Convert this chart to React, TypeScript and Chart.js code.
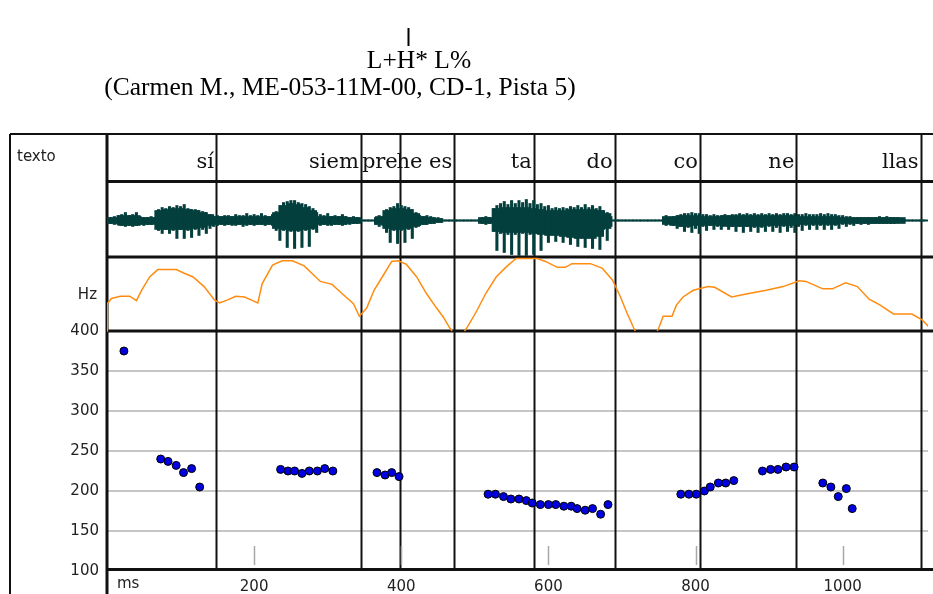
import { useEffect, useRef } from 'react';
import { Chart, registerables } from 'chart.js';

Chart.register(...registerables);

// ---- Data -------------------------------------------------------------

// Syllable labels and their right-hand boundaries (ms)
const syllables = ['sí', 'siem', 'pre', 'he es', 'ta', 'do', 'co', 'ne', 'llas'];
const boundariesMs = [148, 345, 398, 472, 580, 690, 806, 937, 1106];

// F0 measurements (ms, Hz)
const f0Ms = [
  23, 73, 83, 94, 104, 115, 126,
  236, 246, 255, 265, 275, 286, 296, 307,
  367, 378, 387, 397,
  518, 528, 539, 549, 560, 570, 578, 589, 600, 610, 621, 631, 639, 650, 660, 671, 681,
  780, 791, 801, 812, 820, 831, 841, 852,
  891, 902, 912, 923, 934,
  973, 984, 994, 1005, 1013,
];
const f0Hz = [
  375, 240, 237, 232, 223, 228, 205,
  227, 225, 225, 222, 225, 225, 228, 225,
  223, 220, 223, 218,
  196, 196, 193, 190, 190, 188, 185, 183, 183, 183, 181, 181, 178, 176, 178, 171, 183,
  196, 196, 196, 200, 205, 210, 210, 213,
  225, 227, 227, 230, 230,
  210, 205, 193, 203, 178,
];

// Pitch contour tier (ms, relative level 0-100; null = unvoiced gap)
const contourMs = [
  0, 0.5, 6, 18, 31, 40, 47, 58, 69, 94, 105, 117, 132, 146, 153, 164, 175, 187, 198, 205,
  211, 225, 238, 252, 268, 290, 306, 319, 335, 343, 353, 363, 376, 387, 396, 407, 421, 434,
  448, 457, 466, 469, 476,
  486, 489, 502, 515, 529, 542, 556, 585, 596, 612, 623, 632, 657, 673, 687, 698, 707, 716,
  718, 733,
  748, 750, 756, 768, 774, 783, 797, 817, 826, 849, 869, 896, 919, 941, 950, 973, 986, 1004,
  1020, 1036, 1051, 1069, 1094, 1108, 1117,
];
const contourLevel = [
  0, 37, 44, 47, 47, 41, 55, 73, 83, 83, 78, 73, 60, 42, 38, 42, 47, 46, 41, 38,
  64, 89, 95, 95, 88, 67, 63, 51, 37, 20, 31, 55, 76, 94, 95, 90, 73, 51,
  31, 19, 4, 0, null,
  0, 4, 26, 51, 73, 86, 98, 98, 94, 86, 86, 91, 91, 85, 69, 46, 24, 4,
  0, null,
  0, 4, 20, 20, 35, 46, 55, 60, 59, 46, 50, 55, 60, 68, 67, 57, 57, 65,
  60, 43, 35, 23, 23, 15, 6,
];

// Oscillogram: pulse extremes every 5 ms
const WAVE_STEP = 5;
const waveHi = [
  3, 3, 4, 5, 6, 8, 5, 6, 8, 4,
  3, 3, 4, 3,
  11, 13, 12, 14, 13, 15, 14, 16, 12, 11, 11, 10, 9, 8, 6, 4,
  5, 4, 5, 5, 4, 6, 5, 5, 7, 5, 6, 5, 7,
  5, 4, 6,
  9, 15, 18, 19, 20, 20, 18, 17, 16, 14, 12, 8,
  6, 5, 7, 4, 5, 4, 6, 4, 3, 4, 3,
  0.5, 0.5, 0.5, 0.5,
  3, 5, 4,
  11, 13, 14, 17, 15, 14, 13, 11, 8,
  5, 4, 5, 4, 3, 3, 2,
  0.5, 0.5, 0.5, 0.5, 0.5, 0.5, 0.5, 0.5, 0.5, 0.5,
  3, 4, 3,
  12, 15, 17, 19, 16, 20, 17, 20, 18, 21, 17, 20, 16, 17, 14, 15, 12, 13, 12, 13,
  12, 14, 13, 15, 13, 16, 13, 15, 12, 14, 10, 8, 4,
  0.5, 0.5, 0.5, 0.5, 0.5, 0.5, 0.5, 0.5, 0.5, 0.5, 0.5, 0.5, 0.5, 0.5,
  5, 2,
  4, 5, 6, 7, 7, 8, 7, 7, 6, 6,
  5, 6, 5, 5, 6, 5, 6, 6, 7, 6,
  7, 6, 7, 6, 7, 6, 7, 6, 7, 6,
  7, 7, 6, 7, 6, 6, 7, 6, 6, 6,
  7, 6, 7, 6, 6, 5, 5, 4, 4, 3,
  3, 3, 3, 3, 3, 3, 4, 3, 4, 3,
  3, 3, 2,
  0.5, 0.5, 0.5, 0.5, 0.5, 0.5,
];
const waveLo = [
  -3, -3, -4, -4, -5, -6, -5, -6, -5, -4,
  -5, -4, -4, -3,
  -10, -13, -9, -13, -10, -18, -9, -18, -10, -17, -9, -15, -9, -13, -8, -6,
  -5, -4, -5, -4, -5, -5, -4, -6, -5, -4, -5, -4, -4,
  -5, -4, -5,
  -10, -20, -10, -27, -11, -28, -11, -27, -10, -26, -9, -12,
  -5, -4, -5, -5, -4, -4, -5, -4, -4, -3, -3,
  -0.5, -0.5, -0.5, -0.5,
  -4, -6, -5,
  -12, -22, -10, -23, -10, -22, -9, -18, -7,
  -5, -4, -4, -3, -3, -2, -2,
  -0.5, -0.5, -0.5, -0.5, -0.5, -0.5, -0.5, -0.5, -0.5, -0.5,
  -3, -4, -3,
  -11, -30, -13, -32, -14, -34, -14, -35, -13, -35, -14, -34, -13, -30, -12, -22, -11, -21, -11, -22,
  -10, -24, -11, -26, -11, -27, -10, -28, -10, -29, -9, -20, -6,
  -0.5, -0.5, -0.5, -0.5, -0.5, -0.5, -0.5, -0.5, -0.5, -0.5, -0.5, -0.5, -0.5, -0.5,
  -5, -2,
  -5, -8, -6, -11, -7, -12, -8, -13, -6, -10,
  -5, -9, -6, -9, -5, -9, -6, -11, -6, -12,
  -6, -11, -7, -12, -7, -11, -6, -11, -7, -12,
  -6, -11, -7, -12, -6, -10, -5, -9, -5, -9,
  -5, -9, -5, -9, -5, -8, -4, -6, -4, -5,
  -3, -4, -3, -4, -3, -3, -3, -3, -3, -3,
  -3, -2, -2,
  -0.5, -0.5, -0.5, -0.5, -0.5, -0.5,
];

// Oscillogram: dense core every 10 ms
const CORE_STEP = 10;
const coreHi = [
  3, 3, 5, 5, 5, 3, 3,
  10, 11, 12, 12, 11, 10, 8, 6,
  4, 4, 4, 4, 4, 4, 4, 4,
  8, 15, 17, 16, 13, 10,
  4, 4, 4, 4, 3, 3,
  0.5, 0.5,
  4,
  10, 12, 12, 11, 7,
  4, 3, 2,
  0.5, 0.5, 0.5, 0.5, 0.5,
  3, 3,
  12, 13, 13, 13, 13, 12, 11, 10, 10, 10, 11, 11, 11, 11, 10, 7,
  0.5, 0.5, 0.5, 0.5, 0.5, 0.5, 0.5,
  4,
  4, 5, 5, 5, 4, 4, 4, 5, 5, 5, 5, 5, 5, 5, 5, 5, 5, 4, 4, 4, 4, 4, 4,
  3, 3, 3, 3, 3, 3, 3, 3, 3,
  0.5, 0.5, 0.5,
];
const coreLo = [
  -3, -3, -5, -5, -5, -4, -4,
  -9, -9, -9, -9, -9, -8, -7, -5,
  -4, -4, -4, -4, -4, -4, -4, -4,
  -8, -9, -10, -10, -9, -8,
  -4, -4, -4, -4, -3, -3,
  -0.5, -0.5,
  -4,
  -8, -9, -9, -8, -6,
  -4, -3, -2,
  -0.5, -0.5, -0.5, -0.5, -0.5,
  -3, -3,
  -11, -12, -12, -12, -12, -13, -14, -15, -15, -16, -17, -18, -18, -18, -16, -8,
  -0.5, -0.5, -0.5, -0.5, -0.5, -0.5, -0.5,
  -4,
  -5, -6, -6, -5, -5, -5, -5, -6, -6, -6, -6, -6, -6, -5, -5, -5, -5, -4, -4, -4, -4, -4, -4,
  -3, -3, -3, -3, -3, -3, -3, -3, -3,
  -0.5, -0.5, -0.5,
];

// Axis ticks
const hzTicks = [100, 150, 200, 250, 300, 350, 400];
const msTicks = [200, 400, 600, 800, 1000];

// ---- Layout -----------------------------------------------------------

const W = 933;
const H = 594;
const X_MAX = 1116;
const FRAME_LEFT = 10;
const PLOT_LEFT = 107;
const AREA_TOP = 134;
const AREA_BOTTOM = 571;
const TEXT_TIER_BOTTOM = 181.5;
const WAVE_TIER_BOTTOM = 257;
const CONTOUR_TIER_BOTTOM = 331;
const MAIN_BOTTOM = 569.5;

const WAVE_COLOR = '#033f3d';
const CONTOUR_COLOR = '#ff8c10';
const INK = '#111';

// Axis limits so that a value range lands on a given pixel band of the chart area
function bandRange(vLow: number, vHigh: number, pxLow: number, pxHigh: number) {
  const k = (pxLow - pxHigh) / (vHigh - vLow);
  const min = vLow - (AREA_BOTTOM - pxLow) / k;
  const max = min + (AREA_BOTTOM - AREA_TOP) / k;
  return { min, max };
}

const mainRange = bandRange(100, 400, AREA_BOTTOM, CONTOUR_TIER_BOTTOM);
const contourRange = bandRange(0, 100, CONTOUR_TIER_BOTTOM, WAVE_TIER_BOTTOM);
const waveRange = bandRange(-36.5, 36.5, WAVE_TIER_BOTTOM, WAVE_TIER_BOTTOM - 73);

const framePlugin = {
  id: 'praatFrame',
  beforeDatasetsDraw(chart: any) {
    const { ctx } = chart;
    const x = chart.scales.x;
    ctx.save();
    ctx.strokeStyle = INK;
    ctx.lineCap = 'butt';

    // outer frame
    ctx.lineWidth = 2;
    ctx.beginPath();
    ctx.moveTo(FRAME_LEFT, AREA_TOP);
    ctx.lineTo(W, AREA_TOP);
    ctx.moveTo(FRAME_LEFT, AREA_TOP);
    ctx.lineTo(FRAME_LEFT, H);
    ctx.stroke();

    // tier separators
    ctx.lineWidth = 3;
    ctx.beginPath();
    ctx.moveTo(PLOT_LEFT, AREA_TOP - 1);
    ctx.lineTo(PLOT_LEFT, H);
    for (const y of [TEXT_TIER_BOTTOM, WAVE_TIER_BOTTOM, CONTOUR_TIER_BOTTOM, MAIN_BOTTOM]) {
      ctx.moveTo(PLOT_LEFT, y);
      ctx.lineTo(W, y);
    }
    ctx.stroke();

    // syllable boundaries through every tier
    ctx.lineWidth = 2;
    ctx.beginPath();
    for (const b of boundariesMs) {
      const px = Math.round(x.getPixelForValue(b)) + 0.5;
      ctx.moveTo(px, AREA_TOP);
      ctx.lineTo(px, MAIN_BOTTOM);
    }
    ctx.stroke();

    // time marks inside the F0 panel
    ctx.strokeStyle = '#a8a8a8';
    ctx.lineWidth = 1.5;
    ctx.beginPath();
    for (const t of msTicks) {
      const px = Math.round(x.getPixelForValue(t)) + 0.5;
      ctx.moveTo(px, 546);
      ctx.lineTo(px, 565);
    }
    ctx.stroke();
    ctx.restore();
  },
  afterDraw(chart: any) {
    const { ctx } = chart;
    const x = chart.scales.x;
    ctx.save();

    // headings
    ctx.fillStyle = '#000';
    ctx.strokeStyle = '#000';
    ctx.lineWidth = 2;
    ctx.beginPath();
    ctx.moveTo(408.5, 28);
    ctx.lineTo(408.5, 46);
    ctx.stroke();
    ctx.font = '25.5px "Liberation Serif"';
    ctx.textAlign = 'center';
    ctx.textBaseline = 'alphabetic';
    ctx.fillText('L+H* L%', 419, 68);
    ctx.fillText('(Carmen M., ME-053-11M-00, CD-1, Pista 5)', 340, 95);

    // tier names
    ctx.fillStyle = '#222';
    ctx.font = '15px "DejaVu Sans"';
    ctx.textBaseline = 'middle';
    ctx.textAlign = 'left';
    ctx.fillText('texto', 17, 157);
    ctx.fillText('ms', 117, 584);
    ctx.textAlign = 'right';
    ctx.fillText('Hz', 97, 295);

    // syllable labels, right-aligned on their boundaries
    ctx.fillStyle = INK;
    ctx.font = '21px "DejaVu Serif"';
    ctx.textAlign = 'right';
    ctx.textBaseline = 'alphabetic';
    syllables.forEach((s, i) => {
      ctx.fillText(s, x.getPixelForValue(boundariesMs[i]) - 2, 168);
    });
    ctx.restore();
  },
};

export default function App() {
  const canvasRef = useRef<HTMLCanvasElement>(null);

  useEffect(() => {
    const canvas = canvasRef.current;
    if (!canvas) return;

    const pulses = waveHi.map((h, i) => ({ x: i * WAVE_STEP, y: [waveLo[i], h] }));
    const core = coreHi.map((h, i) => ({ x: i * CORE_STEP, y: [coreLo[i], h] }));
    const contour = contourMs.map((t, i) => ({ x: t, y: contourLevel[i] }));
    const f0 = f0Ms.map((t, i) => ({ x: t, y: f0Hz[i] }));

    const chart = new Chart(canvas, {
      type: 'scatter',
      data: {
        datasets: [
          {
            type: 'bar',
            label: 'oscilograma',
            yAxisID: 'yW',
            data: core as any,
            backgroundColor: WAVE_COLOR,
            barThickness: 7.6,
            grouped: false,
          } as any,
          {
            type: 'bar',
            label: 'pulsos',
            yAxisID: 'yW',
            data: pulses as any,
            backgroundColor: WAVE_COLOR,
            barThickness: 2.4,
            grouped: false,
          } as any,
          {
            type: 'line',
            label: 'eje',
            yAxisID: 'yW',
            data: [{ x: 0, y: 0 }, { x: X_MAX, y: 0 }],
            borderColor: WAVE_COLOR,
            borderWidth: 1.5,
            pointRadius: 0,
          },
          {
            type: 'line',
            label: 'curva',
            yAxisID: 'yC',
            data: contour as any,
            borderColor: CONTOUR_COLOR,
            borderWidth: 1.5,
            pointRadius: 0,
            spanGaps: false,
            tension: 0,
          },
          {
            type: 'scatter',
            label: 'F0',
            yAxisID: 'y',
            data: f0,
            pointRadius: 4,
            pointHoverRadius: 4,
            backgroundColor: '#0000e0',
            borderColor: '#000',
            borderWidth: 1,
          },
        ],
      },
      options: {
        responsive: false,
        maintainAspectRatio: false,
        animation: false,
        devicePixelRatio: 1,
        events: [],
        layout: { padding: { top: AREA_TOP, left: FRAME_LEFT, right: 0, bottom: 0 } },
        plugins: { legend: { display: false }, tooltip: { enabled: false } },
        scales: {
          x: {
            type: 'linear',
            position: 'bottom',
            min: 0,
            max: X_MAX,
            offset: false,
            grid: { display: false },
            border: { display: false },
            afterBuildTicks: (s: any) => {
              s.ticks = msTicks.map((v) => ({ value: v }));
            },
            ticks: {
              autoSkip: false,
              maxRotation: 0,
              padding: -1,
              color: '#222',
              font: { family: 'DejaVu Sans', size: 15 },
              callback: (v: any) => String(v),
            },
            afterFit: (s: any) => {
              s.height = H - AREA_BOTTOM;
            },
          },
          y: {
            type: 'linear',
            position: 'left',
            min: mainRange.min,
            max: mainRange.max,
            border: { display: false },
            afterBuildTicks: (s: any) => {
              s.ticks = hzTicks.map((v) => ({ value: v }));
            },
            grid: {
              drawTicks: false,
              lineWidth: 2,
              color: (c: any) =>
                c.tick && c.tick.value > 100 && c.tick.value < 400 ? '#c6c6c6' : 'rgba(0,0,0,0)',
            },
            ticks: {
              autoSkip: false,
              padding: 8,
              color: '#222',
              font: { family: 'DejaVu Sans', size: 15 },
              callback: (v: any) => String(v),
            },
            afterFit: (s: any) => {
              s.width = PLOT_LEFT - FRAME_LEFT;
            },
          },
          yC: { type: 'linear', axis: 'y', display: false, min: contourRange.min, max: contourRange.max },
          yW: { type: 'linear', axis: 'y', display: false, min: waveRange.min, max: waveRange.max },
        } as any,
      },
      plugins: [framePlugin],
    });

    return () => chart.destroy();
  }, []);

  return (
    <div style={{ position: 'absolute', left: 0, top: 0, width: W, height: H, background: '#fff' }}>
      <canvas ref={canvasRef} width={W} height={H} style={{ display: 'block' }} />
    </div>
  );
}
